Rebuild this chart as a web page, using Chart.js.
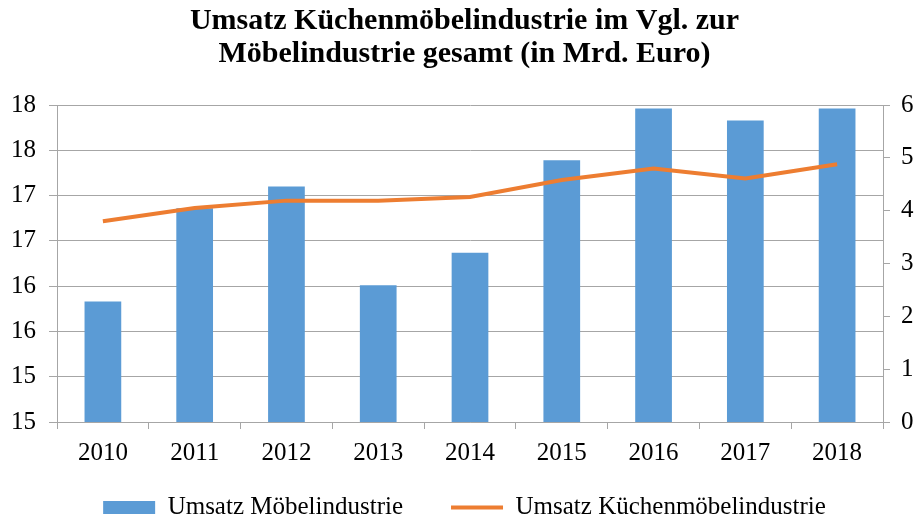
<!DOCTYPE html>
<html>
<head>
<meta charset="utf-8">
<script src="https://cdn.jsdelivr.net/npm/chart.js@4"></script>
<style>
  html, body { margin: 0; padding: 0; background: #fff; }
  #wrap { width: 919px; height: 517px; }
</style>
</head>
<body>
<div id="wrap"><canvas id="chart"></canvas></div>
<script>
const years = ["2010", "2011", "2012", "2013", "2014", "2015", "2016", "2017", "2018"];
const moebelUmsatz = [15.83, 16.86, 17.10, 16.01, 16.37, 17.39, 17.96, 17.83, 17.96];
const kuechenUmsatz = [3.80, 4.05, 4.19, 4.19, 4.26, 4.58, 4.80, 4.61, 4.88];
const leftTickLabels = ["15", "15", "16", "16", "17", "17", "18", "18"];
const rightTickLabels = ["0", "1", "2", "3", "4", "5", "6"];

const gridColor = "#a6a6a6";
const serif = "'Liberation Serif', 'Times New Roman', serif";

window.addEventListener("DOMContentLoaded", createChart);

function createChart(){
    const canvas = document.getElementById("chart");
    new Chart(canvas, {
        data: {
            labels: years,
            datasets: [
                {
                    type: "bar",
                    label: "Umsatz Möbelindustrie",
                    data: moebelUmsatz,
                    backgroundColor: "#5b9bd5",
                    borderWidth: 0,
                    barPercentage: 0.4,
                    categoryPercentage: 1,
                    pointStyle: "rect",
                    yAxisID: "y",
                    order: 1
                },
                {
                    type: "line",
                    label: "Umsatz Küchenmöbelindustrie",
                    data: kuechenUmsatz,
                    borderColor: "#ed7d31",
                    backgroundColor: "#ed7d31",
                    borderWidth: 4,
                    pointRadius: 0,
                    tension: 0,
                    pointStyle: "line",
                    yAxisID: "y1",
                    order: 0
                }
            ]
        },
        options: {
            responsive: true,
            maintainAspectRatio: false,
            animation: false,
            layout: { padding: { left: 5, right: -5, top: 0, bottom: -13 } },
            plugins: {
                tooltip: { enabled: false },
                title: {
                    display: true,
                    text: ["Umsatz Küchenmöbelindustrie im Vgl. zur", "Möbelindustrie gesamt (in Mrd. Euro)"],
                    color: "#000",
                    font: { family: serif, size: 30, weight: "bold", lineHeight: 1.1 },
                    padding: { top: 5, bottom: 34 }
                },
                legend: {
                    position: "bottom",
                    labels: {
                        color: "#000",
                        font: { family: serif, size: 25 },
                        usePointStyle: true,
                        pointStyleWidth: 52,
                        boxHeight: 13,
                        padding: 48,
                        sort: (a, b) => a.datasetIndex - b.datasetIndex
                    }
                }
            },
            scales: {
                x: {
                    offset: true,
                    grid: { offset: true, drawOnChartArea: false, color: gridColor, tickLength: 7 },
                    border: { color: gridColor },
                    ticks: { color: "#000", font: { family: serif, size: 25 }, padding: 9, maxRotation: 0 },
                    afterFit: scale => {
                        // legend sits close under the labels, so keep the box short and don't clip the text
                        scale.height = 25;
                        scale._computeLabelArea = () => undefined;
                    }
                },
                y: {
                    position: "left",
                    min: 14.5,
                    max: 18,
                    grid: { color: gridColor, tickLength: 8 },
                    border: { color: gridColor },
                    ticks: {
                        stepSize: 0.5,
                        color: "#000",
                        font: { family: serif, size: 25 },
                        padding: 13,
                        callback: (value, index) => leftTickLabels[index]
                    },
                    afterFit: scale => { scale.width = 52; }
                },
                y1: {
                    position: "right",
                    min: 0,
                    max: 6,
                    grid: { drawOnChartArea: false, color: gridColor, tickLength: 7 },
                    border: { color: gridColor },
                    ticks: {
                        stepSize: 1,
                        color: "#000",
                        font: { family: serif, size: 25 },
                        padding: 11,
                        callback: (value, index) => rightTickLabels[index]
                    },
                    afterFit: scale => { scale.width = 41; }
                }
            }
        }
    });
}
</script>
</body>
</html>
